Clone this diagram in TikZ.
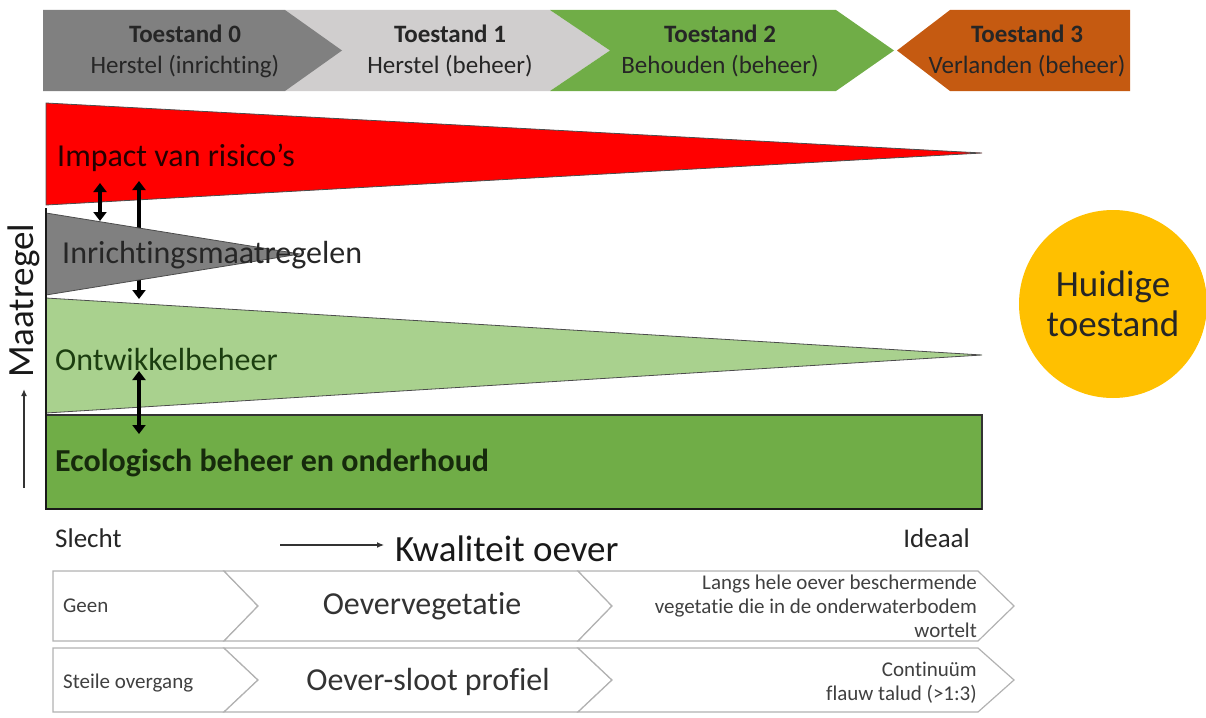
\documentclass[tikz,border=0pt]{standalone}
\usepackage{fontspec}
\setmainfont{Carlito}[Ligatures=NoCommon]
\usetikzlibrary{arrows.meta, positioning, calc}
\tikzset{
    stagelbl/.style={align=center, font=\fontsize{25}{31}\selectfont, text=black!85, inner sep=0pt},
    bandlbl/.style={anchor=west, font=\fontsize{32}{38}\selectfont, inner sep=0pt, text=#1},
    bandedge/.style={draw=black!70, line width=0.8pt, fill=#1},
    dblarrow/.style={{Triangle[length=9pt,width=13pt]}-{Triangle[length=9pt,width=13pt]}, line width=4pt, black},
    thinarrow/.style={-{Latex[length=7pt,width=6pt]}, line width=1.2pt, black!80},
    rowbox/.style={draw=black!30, fill=white, line width=1.2pt},
    rowsmall/.style={font=\fontsize{21}{24}\selectfont, text=black!75, inner sep=0pt, align=right},
    rowbig/.style={font=\fontsize{32}{38}\selectfont, text=black!80, inner sep=0pt},
    axislbl/.style={font=\fontsize{37}{44}\selectfont, inner sep=0pt, text=black!90},
    endlbl/.style={font=\fontsize{27}{32}\selectfont, inner sep=0pt, text=black!85}
}
\definecolor{chevdark}{RGB}{128,128,128}
\definecolor{chevlight}{RGB}{208,206,206}
\definecolor{chevgreen}{RGB}{112,173,71}
\definecolor{chevorange}{RGB}{197,90,17}
\definecolor{riskred}{RGB}{255,0,0}
\definecolor{measgray}{RGB}{128,128,128}
\definecolor{devgreen}{RGB}{169,209,142}
\definecolor{ecogreen}{RGB}{112,173,71}
\definecolor{ecotext}{RGB}{22,42,12}
\definecolor{devtext}{RGB}{28,62,16}
\definecolor{nowgold}{RGB}{255,192,0}

\begin{document}
\begin{tikzpicture}[x=1pt, y=-1pt]
\useasboundingbox (0,0) rectangle (1206,717);

% toestanden
\fill[chevlight] (285,10) -- (550,10) -- (610,50.5) -- (550,91) -- (285,91) -- cycle;
\fill[chevdark] (43,10) -- (285,10) -- (342,50.5) -- (285,91) -- (43,91) -- cycle;
\fill[chevgreen] (550,10) -- (836,10) -- (894,50.5) -- (836,91) -- (550,91) -- (610,50.5) -- cycle;
\fill[chevorange] (897,50.5) -- (950,10) -- (1130,10) -- (1130,91) -- (950,91) -- cycle;
\node[stagelbl] (t0) at (185,51) {\textbf{Toestand 0}\\Herstel (inrichting)};
\node[stagelbl] (t1) at (450,51) {\textbf{Toestand 1}\\Herstel (beheer)};
\node[stagelbl] (t2) at (720,51) {\textbf{Toestand 2}\\Behouden (beheer)};
\node[stagelbl] (t3) at (1027,51) {\textbf{Toestand 3}\\Verlanden (beheer)};

% maatregelen
\draw[bandedge=riskred] (46,103) -- (982,153) -- (46,205) -- cycle;
\coordinate (a1top) at (100,183);
\coordinate (a1bot) at (100,221);
\coordinate (a2top) at (139,181);
\coordinate (a2bot) at (139,299);
\draw[dblarrow] (a1top) -- (a1bot);
\draw[dblarrow] (a2top) -- (a2bot);
\draw[bandedge=measgray] (46,213) -- (300,254) -- (46,295) -- cycle;
\draw[bandedge=devgreen] (46,298) -- (982,355) -- (46,413) -- cycle;
\draw[draw=black!80, line width=1.5pt, fill=ecogreen] (46,415) rectangle (982,509);
\draw[line width=2.5pt, black!90] (46,208) -- (46,509) -- (982,509);
\coordinate (a3top) at (139,371);
\coordinate (a3bot) at (139,434);
\draw[dblarrow] (a3top) -- (a3bot);

\node[bandlbl=black!85!red] (risk) at (57,158) {Impact van risico's};
\node[bandlbl=black!85] (inr) at (62,255) {Inrichtingsmaatregelen};
\node[bandlbl=devtext] (ont) at (55,360) {Ontwikkelbeheer};
\node[bandlbl=ecotext, font=\fontsize{32}{38}\selectfont\bfseries] (eco) at (55,463) {Ecologisch beheer en onderhoud};

% assen
\node[axislbl, rotate=90] (mr) at (24,301) {Maatregel};
\coordinate (mrtail) at (24,488);
\draw[thinarrow, shorten >=11pt] (mrtail) -- (mr.west);
\node[endlbl, anchor=west] (bad) at (55,538) {Slecht};
\node[endlbl, anchor=east] (good) at (970,538) {Ideaal};
\node[axislbl, anchor=west] (kw) at (395,549) {Kwaliteit oever};
\coordinate (kwtail) at (280,545);
\draw[thinarrow, shorten >=11pt] (kwtail) -- (kwtail -| kw.west);

% kenmerken
\foreach \t/\b in {571/641, 648/712} {
    \pgfmathsetmacro{\m}{(\t+\b)/2}
    \draw[rowbox] (53,\t) -- (224,\t) -- (258,\m) -- (224,\b) -- (53,\b) -- cycle;
    \draw[rowbox] (224,\t) -- (578,\t) -- (612,\m) -- (578,\b) -- (224,\b) -- (258,\m) -- cycle;
    \draw[rowbox] (578,\t) -- (978,\t) -- (1014,\m) -- (978,\b) -- (578,\b) -- (612,\m) -- cycle;
}
\node[rowsmall, anchor=west] (veg0) at (63,606) {Geen};
\node[rowbig] (veg) at (422,606) {Oevervegetatie};
\node[rowsmall, anchor=east] (veg1) at (977,606) {Langs hele oever beschermende\\vegetatie die in de onderwaterbodem\\wortelt};
\node[rowsmall, anchor=west] (prof0) at (63,683) {Steile overgang};
\node[rowbig] (prof) at (428,682) {Oever-sloot profiel};
\node[rowsmall, anchor=east] (prof1) at (977,683) {Continuüm\\flauw talud (>1:3)};

% huidige toestand
\node[circle, fill=nowgold, minimum size=188pt, align=center, font=\fontsize{37}{40}\selectfont, text=black!85, inner sep=0pt] (now) at (1113,304) {Huidige\\toestand};

\end{tikzpicture}
\end{document}
